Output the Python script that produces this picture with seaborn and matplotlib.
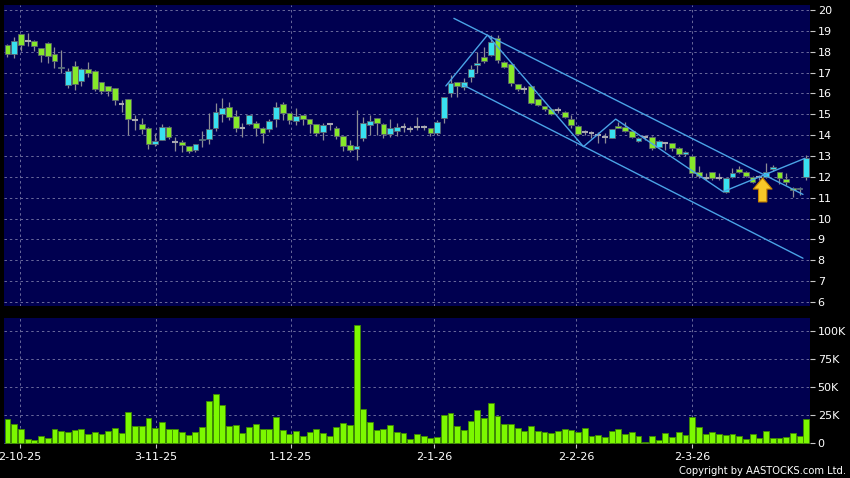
import numpy as np
import pandas as pd
import matplotlib
matplotlib.use("Agg")
import matplotlib.pyplot as plt
import seaborn as sns

# ---------------- data ----------------
opens = [18.32, 17.89, 18.85, 18.53, 18.53, 18.16, 18.42, 17.89, 17.24, 16.41,
         17.32, 16.60, 17.17, 17.08, 16.53, 16.36, 16.25, 15.50, 15.73, 14.74,
         14.54, 14.35, 13.58, 13.77, 14.40, 13.65, 13.67, 13.48, 13.27, 13.75,
         13.80, 14.36, 15.01, 15.33, 14.90, 14.36, 14.52, 14.56, 14.36, 14.31,
         14.76, 15.47, 15.04, 14.69, 14.95, 14.76, 14.52, 14.17, 14.52, 14.36,
         13.96, 13.53, 13.32, 13.84, 14.50, 14.82, 14.54, 14.06, 14.22, 14.40,
         14.30, 14.37, 14.37, 14.32, 14.08, 14.80, 16.00, 16.55, 16.33, 16.77,
         17.36, 17.76, 17.84, 18.67, 17.52, 17.40, 16.45, 16.20, 16.36, 15.72,
         15.40, 15.24, 15.21, 15.13, 14.77, 14.46, 14.14, 14.09, 14.01, 13.90,
         13.88, 14.45, 14.41, 14.22, 13.74, 13.93, 13.93, 13.45, 13.64, 13.61,
         13.37, 13.08, 13.00, 12.25, 11.96, 12.22, 11.96, 11.29, 11.98, 12.36,
         12.22, 12.01, 11.98, 12.01, 12.38, 12.22, 11.88, 11.45, 11.40, 11.98]
highs = [18.35, 18.69, 18.87, 18.88, 18.55, 18.18, 18.45, 18.21, 18.08, 17.22,
         17.56, 17.20, 17.52, 17.14, 16.55, 16.38, 16.27, 15.69, 15.75, 14.97,
         14.82, 14.37, 14.09, 14.54, 14.45, 13.89, 13.77, 13.50, 13.58, 14.20,
         15.04, 15.55, 15.76, 15.59, 15.20, 14.60, 14.98, 14.69, 14.38, 14.76,
         15.57, 15.57, 15.06, 15.28, 14.97, 14.78, 14.54, 14.60, 14.60, 14.44,
         13.98, 13.77, 15.20, 14.85, 14.95, 14.84, 14.56, 14.76, 14.60, 14.60,
         14.45, 14.85, 14.50, 14.34, 14.72, 15.85, 16.88, 16.57, 16.73, 17.36,
         18.00, 18.24, 18.80, 18.80, 17.55, 17.42, 16.47, 16.36, 16.38, 15.74,
         15.42, 15.26, 15.35, 15.15, 14.97, 14.48, 14.26, 14.22, 14.17, 14.09,
         14.30, 14.65, 14.65, 14.24, 13.93, 14.01, 13.95, 13.77, 13.69, 13.63,
         13.45, 13.25, 13.02, 12.52, 12.20, 12.25, 12.17, 11.93, 12.41, 12.52,
         12.30, 12.03, 12.10, 12.68, 12.55, 12.25, 12.20, 11.50, 11.52, 13.05]
lows = [17.73, 17.68, 18.05, 18.29, 18.02, 17.49, 17.44, 17.20, 16.96, 16.25,
        16.17, 16.36, 16.80, 16.12, 15.97, 15.86, 15.45, 15.10, 14.01, 14.25,
        14.06, 13.34, 13.47, 13.77, 13.80, 13.26, 13.17, 13.13, 13.20, 13.45,
        13.56, 14.20, 14.64, 14.72, 14.13, 13.90, 14.50, 13.96, 13.64, 14.13,
        14.40, 14.72, 14.53, 14.48, 14.48, 14.09, 13.96, 13.77, 14.25, 13.80,
        13.26, 13.17, 12.83, 13.70, 14.00, 14.00, 13.87, 13.93, 13.95, 14.17,
        14.15, 14.25, 14.25, 13.95, 14.00, 14.60, 15.81, 15.85, 16.17, 16.57,
        16.96, 17.44, 17.80, 17.44, 17.20, 16.35, 16.10, 16.00, 15.50, 15.40,
        15.15, 14.95, 15.05, 14.80, 14.33, 14.01, 14.01, 13.85, 13.61, 13.61,
        13.85, 14.33, 14.17, 13.85, 13.69, 13.77, 13.29, 13.37, 13.29, 13.26,
        13.00, 13.00, 12.05, 11.93, 11.85, 11.85, 11.85, 11.24, 11.93, 12.17,
        12.00, 11.69, 11.85, 11.93, 12.30, 11.65, 11.60, 11.05, 11.15, 11.85]
closes = [17.89, 18.53, 18.32, 18.53, 18.26, 17.84, 17.81, 17.54, 17.28, 17.08,
          16.45, 17.17, 17.00, 16.21, 16.13, 16.12, 15.69, 15.50, 14.78, 14.74,
          14.30, 13.58, 13.72, 14.38, 13.89, 13.65, 13.51, 13.22, 13.56, 13.80,
          14.31, 15.09, 15.28, 14.88, 14.32, 14.36, 14.96, 14.32, 14.09, 14.66,
          15.33, 15.04, 14.72, 14.90, 14.76, 14.53, 14.09, 14.47, 14.52, 13.96,
          13.49, 13.29, 13.46, 14.60, 14.66, 14.56, 14.06, 14.35, 14.40, 14.40,
          14.30, 14.37, 14.37, 14.08, 14.64, 15.81, 16.52, 16.36, 16.57, 17.16,
          17.44, 17.57, 18.48, 17.60, 17.28, 16.49, 16.20, 16.20, 15.56, 15.45,
          15.24, 15.02, 15.21, 14.86, 14.49, 14.06, 14.14, 14.09, 14.01, 13.90,
          14.28, 14.33, 14.22, 13.90, 13.85, 13.93, 13.37, 13.72, 13.64, 13.37,
          13.10, 13.21, 12.20, 12.06, 11.96, 11.93, 11.96, 11.93, 12.17, 12.22,
          12.06, 11.74, 11.98, 12.22, 12.47, 11.97, 11.74, 11.37, 11.48, 12.89]
volumes_k = [21.4, 16.9, 12.2, 3.9, 2.4, 6.2, 4.7, 12.5, 10.7, 10.1,
             11.6, 12.2, 7.7, 9.5, 8.3, 10.4, 13.1, 8.9, 27.6, 15.1,
             14.8, 22.0, 13.1, 18.4, 12.5, 12.5, 9.5, 7.4, 9.8, 14.0,
             37.4, 43.6, 33.8, 15.4, 15.7, 9.2, 14.0, 16.6, 12.2, 12.5,
             23.2, 11.6, 7.7, 11.0, 5.9, 9.8, 12.5, 8.9, 5.9, 14.0,
             18.1, 16.0, 104.8, 30.6, 18.4, 11.3, 12.2, 16.0, 9.5, 9.2,
             3.6, 7.7, 6.2, 4.7, 5.0, 25.2, 26.4, 15.1, 11.6, 19.6,
             29.1, 22.0, 35.9, 24.0, 16.9, 17.2, 13.4, 10.7, 15.4, 11.0,
             9.8, 8.6, 11.0, 12.8, 11.6, 9.5, 13.4, 6.2, 7.1, 5.6,
             10.7, 12.5, 8.0, 9.8, 5.9, 0.6, 5.9, 3.0, 8.9, 5.0,
             9.5, 7.1, 23.2, 14.0, 7.7, 9.8, 7.7, 6.8, 7.7, 6.2,
             3.6, 7.7, 4.7, 10.7, 4.5, 4.7, 5.0, 9.2, 6.5, 21.1]

date_tick_pos = [1.86, 22.1, 42.2, 63.5, 84.7, 102.0]
date_tick_labels = ["2-10-25", "3-11-25", "1-12-25", "2-1-26", "2-2-26", "2-3-26"]
price_ticks = list(range(6, 21))
vol_ticks = [0, 25, 50, 75, 100]
vol_tick_labels = ["0", "25K", "50K", "75K", "100K"]

# drawn trend lines (index, price)
upper_line_x = [66.5, 118.5]
upper_line_y = [19.60, 11.16]
lower_line_x = [67.9, 118.5]
lower_line_y = [16.40, 8.10]
zigzag_x = [65.3, 71.5, 85.8, 90.6, 106.6, 118.8]
zigzag_y = [16.36, 18.80, 13.45, 14.77, 11.29, 12.89]
arrow_x = 112.5
arrow_tip_y = 11.95
arrow_base_y = 10.8

# ---------------- styling ----------------
sns.set_theme(style="dark")
plt.rcParams['font.family'] = ['DejaVu Sans']

BG = "#000050"
GRID = "#6a6a9c"
UP = "#38e0f0"
DOWN = "#86e82a"
DOJI = "#a8a8b0"
WICK = "#8c8c94"
EDGE = "#5c6470"
VOL = "#7cf800"
LINE = "#4aa3e6"

W, H = 850, 478
fig = plt.figure(figsize=(W / 100, H / 100), dpi=100, facecolor="black")
ax = fig.add_axes([4 / W, 1 - 306 / H, 806 / W, 301 / H])
axv = fig.add_axes([4 / W, 1 - 444 / H, 806 / W, 126 / H])

df = pd.DataFrame({"idx": np.arange(len(opens)), "open": opens, "high": highs,
                   "low": lows, "close": closes, "vol": volumes_k})
x = df["idx"].to_numpy()
o = df["open"].to_numpy(); c = df["close"].to_numpy()
up = c > o; dn = c < o; dj = c == o
bw = 0.86

for a in (ax, axv):
    a.set_facecolor(BG)
    for s in a.spines.values():
        s.set_visible(False)
    a.set_xlim(-0.52, 119.55)
    a.set_xticks(date_tick_pos)
    a.grid(True, color=GRID, linestyle=(0, (2.5, 3)), linewidth=0.7)
    a.set_axisbelow(True)
    a.yaxis.tick_right()
    a.tick_params(axis="y", colors="#c8c8c8", labelcolor="white", labelsize=8,
                  length=3.5, width=0.8, pad=2, direction="out", right=True, left=False)

# candles
ax.vlines(x, df["low"], df["high"], color=WICK, linewidth=0.9, zorder=2)
ax.bar(x[up], (c - o)[up], bottom=o[up], width=bw, color=UP, edgecolor=EDGE,
       linewidth=0.6, zorder=3)
ax.bar(x[dn], (o - c)[dn], bottom=c[dn], width=bw, color=DOWN, edgecolor=EDGE,
       linewidth=0.6, zorder=3)
ax.hlines(o[dj], x[dj] - bw / 2, x[dj] + bw / 2, color=DOJI, linewidth=1.5, zorder=3)

# trend lines
ax.plot(upper_line_x, upper_line_y, color=LINE, linewidth=1.0, zorder=4)
ax.plot(lower_line_x, lower_line_y, color=LINE, linewidth=1.0, zorder=4)
ax.plot(zigzag_x, zigzag_y, color=LINE, linewidth=1.0, zorder=4)

# arrow
ax.annotate("", xy=(arrow_x, arrow_tip_y), xytext=(arrow_x, arrow_base_y),
            arrowprops=dict(arrowstyle="simple,head_length=0.8,head_width=1.35,tail_width=0.6",
                            fc="#f8c828", ec="#c88400", lw=0.8, mutation_scale=10,
                            shrinkA=0, shrinkB=0), zorder=6)

ax.set_ylim(5.81, 20.24)
ax.set_yticks(price_ticks)
ax.set_yticklabels([str(t) for t in price_ticks])
ax.tick_params(axis="x", length=0, labelbottom=False)
ax.set_xlabel(""); ax.set_ylabel("")

# volume
sns.barplot(data=df, x="idx", y="vol", native_scale=True, color=VOL, saturation=1,
            edgecolor="#3f8a00", linewidth=0.6, width=0.88, errorbar=None, ax=axv, zorder=3)
axv.set_xlim(-0.52, 119.55)
axv.set_ylim(-0.9, 111.3)
axv.set_yticks(vol_ticks)
axv.set_yticklabels(vol_tick_labels)
axv.set_xticks(date_tick_pos)
axv.set_xticklabels(date_tick_labels)
axv.tick_params(axis="x", colors="#c8c8c8", labelcolor="white", labelsize=8,
                length=3, width=0.8, pad=3, direction="out", bottom=True)
axv.set_xlabel(""); axv.set_ylabel("")

fig.text(846 / W, 1 - 471 / H, "Copyright by AASTOCKS.com Ltd.", ha="right",
         va="center", color="white", fontsize=7.2)

fig.savefig("out.png", dpi=100, facecolor="black")
